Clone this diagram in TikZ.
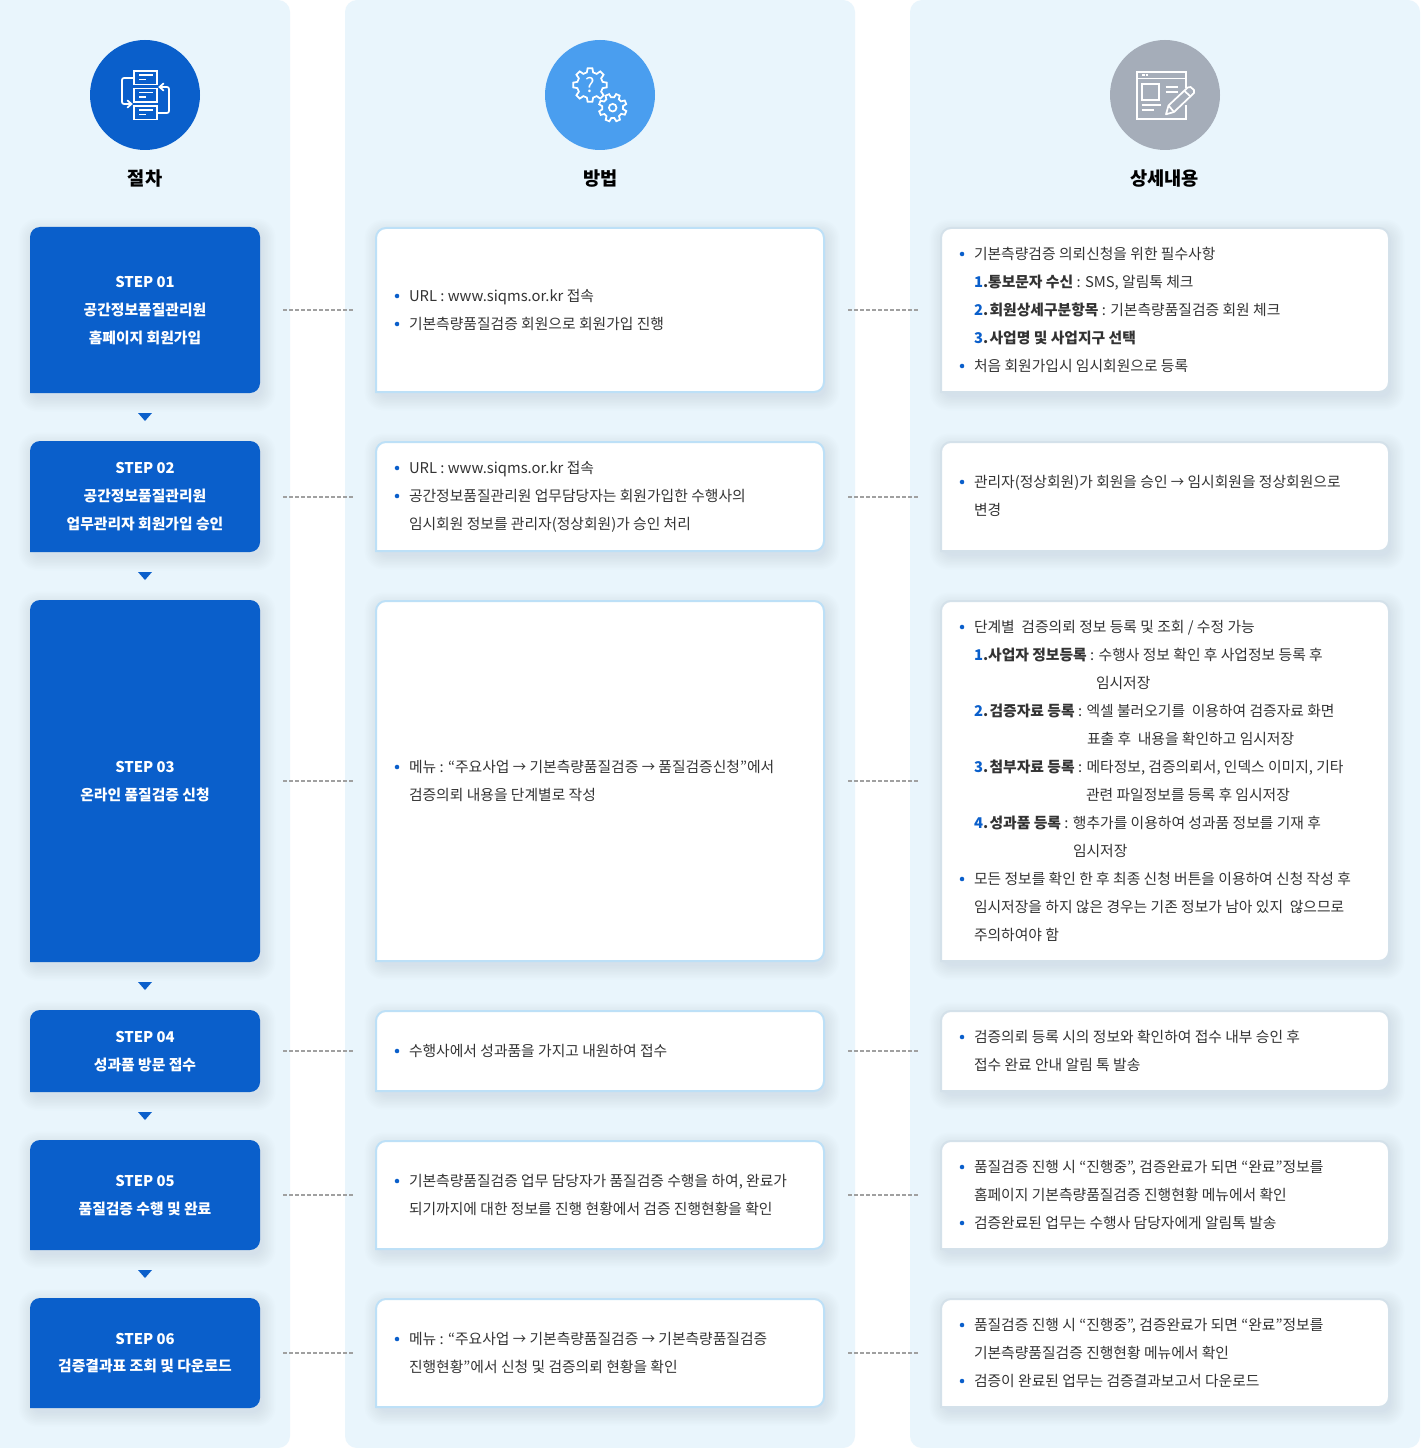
\documentclass[tikz,border=0pt]{standalone}
\usepackage{fontspec}
\usepackage{graphicx}
\setmainfont{Noto Sans CJK KR}
\definecolor{panelc}{HTML}{E9F5FC}
\definecolor{stepc}{HTML}{0A5FCB}
\definecolor{gearc}{HTML}{4A9EEF}
\definecolor{greyc}{HTML}{A5ADB9}
\definecolor{midb}{HTML}{BDE0F7}
\definecolor{rightb}{HTML}{D4E1EA}
\definecolor{textc}{HTML}{333333}
\definecolor{dashc}{HTML}{A0A0A0}
\definecolor{shadowc}{HTML}{5F7F99}
\tikzset{
  x=0.75pt,y=-0.75pt,
  txt/.style={anchor=base west,inner sep=0pt,outer sep=0pt,text=textc,font=\fontsize{11.1pt}{13pt}\selectfont},
  steptxt/.style={anchor=base,inner sep=0pt,outer sep=0pt,text=white,font=\fontsize{11.1pt}{13pt}\selectfont\bfseries},
  headtxt/.style={anchor=base,inner sep=0pt,outer sep=0pt,text=black,font=\fontsize{14pt}{16pt}\selectfont\bfseries},
  bulletdot/.style={circle,fill=stepc,inner sep=0pt,outer sep=0pt,minimum size=3.4pt},
  conn/.style={draw=dashc,line width=1.2pt,dash pattern=on 3pt off 1.5pt},
  icn/.style={draw=white,line width=1.3pt,line join=miter},
  anchorbox/.style={inner sep=0pt,outer sep=0pt,draw=none,fill=none},
  stepfill/.style={fill=stepc},
  midcard/.style={draw=midb,fill=white,line width=1.5pt},
  rightcard/.style={draw=rightb,fill=white,line width=1.5pt},
  disc/.style={circle,inner sep=0pt,minimum size=82.5pt},
}
% x1 y1 x2 y2 : soft shadow
\newcommand{\softshadow}[4]{%
  \foreach \k in {0,...,9}{%
    \fill[shadowc,opacity=0.011,rounded corners={7.5pt+\k*0.75pt}]
      ({#1-\k*1.5+2},{#2-\k*1.5+5}) rectangle ({#3+\k*1.5+2},{#4+\k*1.5+5});
  }%
}
% style name x1 y1 x2 y2
\newcommand{\cardbox}[6]{%
  \softshadow{#3}{#4}{#5}{#6}%
  \path[#1] (#3,#6) [rounded corners=7.5pt] -- (#3,#4) -- (#5,#4) -- (#5,#6) [sharp corners] -- cycle;
  \node[anchorbox,minimum width={(#5-#3)*0.75pt},minimum height={(#6-#4)*0.75pt}] (#2) at ({(#3+#5)/2},{round((#4+#6)/2+0.1)}) {};
}
\newcommand{\txl}[4]{\node[txt] (#1) at (#2,{#3+5.3}) {#4};}
\newcommand{\bul}[4]{\node[bulletdot] (#1b) at ({#2-12},#3) {};\node[txt] (#1) at (#2,{#3+5.3}) {#4};}
\newcommand{\stp}[3]{\node[steptxt] (#1) at (145,{#2+5.3}) {#3};}
\newcommand{\nm}[2]{{\bfseries\textcolor{stepc}{#1}.\ifnum#1=1 \kern-2.6pt\else\kern-1.5pt\fi\ #2}}
\newcommand{\arr}{\scalebox{0.9}[1]{→}}
\newcommand{\gearpath}[6]{% cx cy rout rin teeth-step rot
  \path[icn,fill=gearc,shift={(#1,#2)}] (#6-14:#4)
   \foreach \a in {0,#5,...,359}{ -- ({#6+\a-14}:#4) -- ({#6+\a-8}:#3) -- ({#6+\a+8}:#3) -- ({#6+\a+14}:#4) } -- cycle;
}
\begin{document}
\begin{tikzpicture}
\useasboundingbox (0,0) rectangle (1420,1448);
\fill[white] (0,0) rectangle (1420,1448);
% panels
\fill[panelc] (0,0) [rounded corners=9pt] -- (290,0) -- (290,1448) [sharp corners] -- (0,1448) -- cycle;
\fill[panelc,rounded corners=9pt] (345,0) rectangle (855,1448);
\fill[panelc,rounded corners=9pt] (910,0) rectangle (1420,1448);
% discs
\node[disc,fill=stepc] (ic1) at (145,95) {};
\node[disc,fill=gearc] (ic2) at (600,95) {};
\node[disc,fill=greyc] (ic3) at (1165,95) {};
% icon 1
\foreach \ty in {71,88.5,106}{
  \draw[icn] (134,\ty) rectangle (157,{\ty+13.5});
  \draw[icn] (139,{\ty+4}) -- (153,{\ty+4});
  \draw[icn] (139,{\ty+8.5}) -- (146,{\ty+8.5});
}
\draw[icn,rounded corners=1.5pt] (134,78) -- (122,78) -- (122,104) -- (131,104);
\draw[icn,line cap=round] (127.5,100.5) -- (131.5,104) -- (127.5,107.5);
\draw[icn,rounded corners=1.5pt] (157,113) -- (169,113) -- (169,87) -- (160,87);
\draw[icn,line cap=round] (163.5,83.5) -- (159.5,87) -- (163.5,90.5);
% icon 2
\gearpath{590}{85}{17}{13}{45}{0}
\node[inner sep=0pt,text=white,font=\fontsize{15pt}{15pt}\selectfont] (qm) at (590,85) {?};
\gearpath{612.7}{107.7}{14}{10.5}{45}{22}
\draw[icn] (612.7,107.7) circle[radius=3.8];
% icon 3
\draw[icn] (1185.7,88) -- (1185.7,71.7) -- (1137.3,71.7) -- (1137.3,119.3) -- (1185.7,119.3) -- (1185.7,105);
\draw[icn] (1137.3,78.5) -- (1185.7,78.5);
\draw[icn] (1142,75.2) -- (1144.5,75.2) (1145.5,75.2) -- (1148,75.2);
\draw[icn] (1142.3,83.7) rectangle (1159.3,99.7);
\draw[icn] (1165.7,87) -- (1177.7,87) (1165.7,92.3) -- (1177.7,92.3);
\draw[icn] (1141.7,105.3) -- (1161,105.3) (1141.7,110.3) -- (1153.7,110.3);
\draw[icn,fill=greyc,line join=round] (1166,114.3) -- (1168.5,105.5) -- (1187.7,87.5) -- (1190.5,87) -- (1194,90) -- (1194,93) -- (1174,112) -- cycle;
\draw[icn] (1184.5,91) -- (1190.5,96.5);
\draw[icn] (1168.5,105.5) -- (1174,112);
% headings
\node[headtxt] (h1) at (145,186) {절차};
\node[headtxt] (h2) at (600.5,186) {방법};
\node[headtxt] (h3) at (1164.5,186) {상세내용};
% step boxes
\cardbox{stepfill}{s1}{30}{227}{260}{393}
\cardbox{stepfill}{s2}{30}{441}{260}{552}
\cardbox{stepfill}{s3}{30}{600}{260}{962}
\cardbox{stepfill}{s4}{30}{1010}{260}{1092}
\cardbox{stepfill}{s5}{30}{1140}{260}{1250}
\cardbox{stepfill}{s6}{30}{1298}{260}{1408}
% method cards
\cardbox{midcard}{m1}{376}{228}{824}{392}
\cardbox{midcard}{m2}{376}{442}{824}{551}
\cardbox{midcard}{m3}{376}{601}{824}{961}
\cardbox{midcard}{m4}{376}{1011}{824}{1091}
\cardbox{midcard}{m5}{376}{1141}{824}{1249}
\cardbox{midcard}{m6}{376}{1299}{824}{1407}
% detail cards
\cardbox{rightcard}{d1}{941}{228}{1389}{392}
\cardbox{rightcard}{d2}{941}{442}{1389}{551}
\cardbox{rightcard}{d3}{941}{601}{1389}{961}
\cardbox{rightcard}{d4}{941}{1011}{1389}{1091}
\cardbox{rightcard}{d5}{941}{1141}{1389}{1249}
\cardbox{rightcard}{d6}{941}{1299}{1389}{1407}
% connectors
\foreach \r in {1,...,6}{
  \draw[conn,shorten <=17.25pt,shorten >=17.25pt] (s\r) -- (m\r);
  \draw[conn,shorten <=18pt,shorten >=17.25pt] (m\r) -- (d\r);
}
% triangles
\foreach \ty in {413,572,982,1112,1270}{
  \fill[stepc] (138,\ty) -- (152,\ty) -- (145,{\ty+8}) -- cycle;
}
% step text
\stp{s1a}{282}{STEP 01}\stp{s1b}{310}{공간정보품질관리원}\stp{s1c}{338}{홈페이지 회원가입}
\stp{s2a}{468}{STEP 02}\stp{s2b}{496}{공간정보품질관리원}\stp{s2c}{524}{업무관리자 회원가입 승인}
\stp{s3a}{767}{STEP 03}\stp{s3b}{795}{온라인 품질검증 신청}
\stp{s4a}{1037}{STEP 04}\stp{s4b}{1065}{성과품 방문 접수}
\stp{s5a}{1181}{STEP 05}\stp{s5b}{1209}{품질검증 수행 및 완료}
\stp{s6a}{1339}{STEP 06}\stp{s6b}{1366}{검증결과표 조회 및 다운로드}
% method text
\bul{m1a}{409}{296}{URL : www.siqms.or.kr 접속}
\bul{m1c}{409}{324}{기본측량품질검증 회원으로 회원가입 진행}
\bul{m2a}{409}{468}{URL : www.siqms.or.kr 접속}
\bul{m2c}{409}{496}{공간정보품질관리원 업무담당자는 회원가입한 수행사의}
\txl{m2d}{409}{524}{임시회원 정보를 관리자(정상회원)가 승인 처리}
\bul{m3a}{409}{767}{메뉴 : “주요사업 \arr{} 기본측량품질검증 \arr{} 품질검증신청”에서}
\txl{m3c}{409}{795}{검증의뢰 내용을 단계별로 작성}
\bul{m4a}{409}{1051}{수행사에서 성과품을 가지고 내원하여 접수}
\bul{m5a}{409}{1181}{기본측량품질검증 업무 담당자가 품질검증 수행을 하여, 완료가}
\txl{m5c}{409}{1209}{되기까지에 대한 정보를 진행 현황에서 검증 진행현황을 확인}
\bul{m6a}{409}{1339}{메뉴 : “주요사업 \arr{} 기본측량품질검증 \arr{} 기본측량품질검증}
\txl{m6c}{409}{1367}{진행현황”에서 신청 및 검증의뢰 현황을 확인}
% detail text
\bul{d1a}{974}{254}{기본측량검증 의뢰신청을 위한 필수사항}
\txl{d1c}{974}{282}{\nm{1}{통보문자 수신} : SMS, 알림톡 체크}
\txl{d1d}{974}{310}{\nm{2}{회원상세구분항목} : 기본측량품질검증 회원 체크}
\txl{d1e}{974}{338}{\nm{3}{사업명 및 사업지구 선택}}
\bul{d1f}{974}{366}{처음 회원가입시 임시회원으로 등록}
\bul{d2a}{974}{482}{관리자(정상회원)가 회원을 승인 \arr{} 임시회원을 정상회원으로}
\txl{d2c}{974}{510}{변경}
\bul{d3a}{974}{627}{단계별\ \ 검증의뢰 정보 등록 및 조회 / 수정 가능}
\txl{d3c}{974}{655}{\nm{1}{사업자 정보등록} : 수행사 정보 확인 후 사업정보 등록 후}
\txl{d3d}{1096}{683}{임시저장}
\txl{d3e}{974}{711}{\nm{2}{검증자료 등록} : 엑셀 불러오기를\ \ 이용하여 검증자료 화면}
\txl{d3f}{1087}{739}{표출 후\ \ 내용을 확인하고 임시저장}
\txl{d3g}{974}{767}{\nm{3}{첨부자료 등록} : 메타정보, 검증의뢰서, 인덱스 이미지, 기타}
\txl{d3h}{1086}{795}{관련 파일정보를 등록 후 임시저장}
\txl{d3i}{974}{823}{\nm{4}{성과품 등록} : 행추가를 이용하여 성과품 정보를 기재 후}
\txl{d3j}{1073}{851}{임시저장}
\bul{d3k}{974}{879}{모든 정보를 확인 한 후 최종 신청 버튼을 이용하여 신청 작성 후}
\txl{d3m}{974}{907}{임시저장을 하지 않은 경우는 기존 정보가 남아 있지\ \ 않으므로}
\txl{d3n}{974}{935}{주의하여야 함}
\bul{d4a}{974}{1037}{검증의뢰 등록 시의 정보와 확인하여 접수 내부 승인 후}
\txl{d4c}{974}{1065}{접수 완료 안내 알림 톡 발송}
\bul{d5a}{974}{1167}{품질검증 진행 시 “진행중”, 검증완료가 되면 “완료”정보를}
\txl{d5c}{974}{1195}{홈페이지 기본측량품질검증 진행현황 메뉴에서 확인}
\bul{d5d}{974}{1223}{검증완료된 업무는 수행사 담당자에게 알림톡 발송}
\bul{d6a}{974}{1325}{품질검증 진행 시 “진행중”, 검증완료가 되면 “완료”정보를}
\txl{d6c}{974}{1353}{기본측량품질검증 진행현황 메뉴에서 확인}
\bul{d6d}{974}{1381}{검증이 완료된 업무는 검증결과보고서 다운로드}
\end{tikzpicture}
\end{document}
